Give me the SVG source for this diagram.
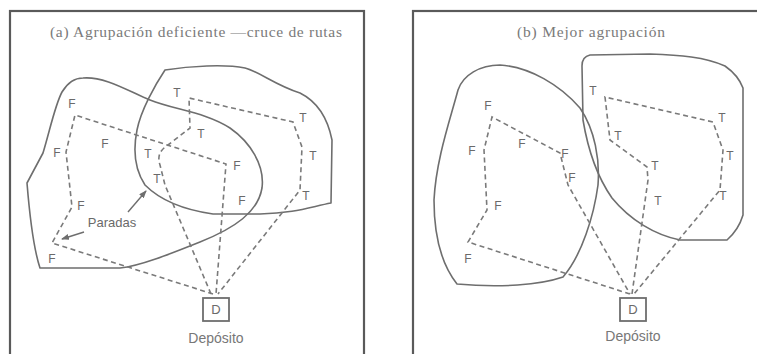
<svg xmlns="http://www.w3.org/2000/svg" width="757" height="354" viewBox="0 0 757 354">
<defs>
<style>
.frame{fill:#fff;stroke:#5a5a5a;stroke-width:2.2}
.cl{fill:none;stroke:#6e6e6e;stroke-width:1.6;stroke-linejoin:round}
.rt{fill:none;stroke:#7a7a7a;stroke-width:1.6;stroke-dasharray:5 3.5}
.lb{font-family:"Liberation Sans",Arial,sans-serif;font-size:12px;fill:#6a6a6a;text-anchor:middle}
.ttl{font-family:"Liberation Serif","Times New Roman",serif;font-size:15.5px;fill:#7a7a7a;text-anchor:middle}
.dep{font-family:"Liberation Sans",Arial,sans-serif;font-size:14px;fill:#777;text-anchor:middle}
.box{fill:#fff;stroke:#6e6e6e;stroke-width:1.8}
.ar{fill:none;stroke:#6e6e6e;stroke-width:1.4}
</style>
<marker id="ah" markerWidth="8" markerHeight="6" refX="7" refY="3" orient="auto" markerUnits="userSpaceOnUse">
<path d="M0,0 L8,3 L0,6 Z" fill="#6e6e6e"/>
</marker>
</defs>
<rect width="757" height="354" fill="#fff"/>

<g id="panel-a">
<rect class="frame" x="10" y="11" width="354" height="345"/>
<text class="ttl" x="196" y="37" textLength="292" lengthAdjust="spacing">(a) Agrupación deficiente —cruce de rutas</text>
</g>
<g id="panel-b">
<rect class="frame" x="413" y="11" width="360" height="345"/>
<text class="ttl" x="591" y="37" textLength="148" lengthAdjust="spacing">(b) Mejor agrupación</text>
</g>

<g id="clusters">
<g id="cluster-a-F"><path class="cl" d="M83,78 C105,76 130,92 150,100 C175,110 205,112 230,128 C250,142 265,165 262,188 C258,212 235,228 200,242 C170,254 140,266 120,268 L40,268 C34,250 30,220 27,183 L43,153 C50,130 55,105 62,92 C68,82 75,78 83,78 Z"/></g>
<g id="cluster-a-T"><path class="cl" d="M165,70 C190,66 225,64 245,68 C260,72 275,85 300,93 C318,102 328,120 332,140 L331,203 C310,207 295,213 260,214 L213,214 C185,210 160,200 145,185 C135,170 133,150 137,130 C141,110 155,85 165,70 Z"/></g>
<g id="cluster-b-F"><path class="cl" d="M500,65 C530,67 560,85 580,108 C595,130 600,160 598,185 C594,215 582,255 563,277 C540,285 500,288 457,284 C442,265 434,235 434,200 C436,160 450,120 458,90 C463,75 480,65 500,65 Z"/></g>
<g id="cluster-b-T"><path class="cl" d="M590,55 L650,54 C680,55 705,57 725,66 C735,73 740,80 743,88 L743,215 C740,225 735,233 727,240 L680,240 C655,235 630,220 612,198 C598,178 588,150 583,120 L582,66 C582,60 585,56 590,55 Z"/></g>
</g>

<g id="connectors">
<path class="rt" d="M213,294 L52,243 L72,207 L66,152 L75,115 L226,164 L216,294"/>
<path class="rt" d="M211,294 L165,185 L160,165 C157,156 160,150 168,145 L190,128 L189,98 L293,122 L302,147 L300,190 L218,294"/>
<path class="rt" d="M630,294 L468,242 L487,210 L484,150 L492,117 L560,153 L568,185 L630,294"/>
<path class="rt" d="M632,294 L648,180 L647,167 L610,140 L605,97 L713,122 L723,150 L720,190 L634,294"/>
<line class="ar" x1="128" y1="212" x2="146" y2="191" marker-end="url(#ah)"/>
<line class="ar" x1="84" y1="232" x2="62" y2="239" marker-end="url(#ah)"/>
</g>

<g id="labels-a">
<text class="lb" x="72" y="108">F</text>
<text class="lb" x="105" y="148">F</text>
<text class="lb" x="57" y="157">F</text>
<text class="lb" x="81" y="210">F</text>
<text class="lb" x="52" y="263">F</text>
<text class="lb" x="237" y="170">F</text>
<text class="lb" x="242" y="205">F</text>
<text class="lb" x="177" y="97">T</text>
<text class="lb" x="303" y="122">T</text>
<text class="lb" x="201" y="138">T</text>
<text class="lb" x="148" y="158">T</text>
<text class="lb" x="157" y="183">T</text>
<text class="lb" x="313" y="160">T</text>
<text class="lb" x="306" y="200">T</text>
<text class="lb" x="112" y="227" style="font-size:13px">Paradas</text>
</g>
<g id="labels-b">
<text class="lb" x="488" y="110">F</text>
<text class="lb" x="472" y="155">F</text>
<text class="lb" x="522" y="148">F</text>
<text class="lb" x="565" y="158">F</text>
<text class="lb" x="572" y="182">F</text>
<text class="lb" x="498" y="210">F</text>
<text class="lb" x="468" y="263">F</text>
<text class="lb" x="593" y="95">T</text>
<text class="lb" x="722" y="122">T</text>
<text class="lb" x="618" y="140">T</text>
<text class="lb" x="730" y="160">T</text>
<text class="lb" x="655" y="170">T</text>
<text class="lb" x="723" y="200">T</text>
<text class="lb" x="658" y="205">T</text>
</g>

<g id="depot-a">
<rect class="box" x="203" y="298" width="26" height="23"/>
<text class="lb" x="216" y="314" style="font-size:13px">D</text>
<text class="dep" x="216" y="343">Depósito</text>
</g>
<g id="depot-b">
<rect class="box" x="620" y="298" width="26" height="23"/>
<text class="lb" x="633" y="314" style="font-size:13px">D</text>
<text class="dep" x="633" y="341">Depósito</text>
</g>
</svg>
